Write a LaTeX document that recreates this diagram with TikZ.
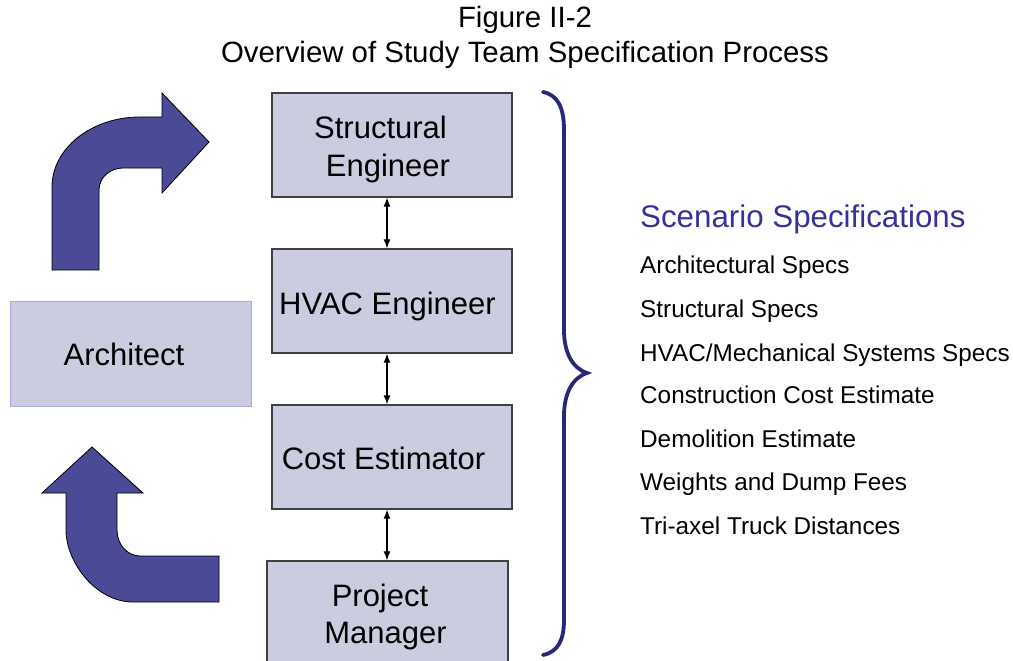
\documentclass[tikz,border=0pt]{standalone}
\usepackage{fontspec}
\setmainfont{Liberation Sans}
\usetikzlibrary{arrows.meta}
\definecolor{boxfill}{RGB}{204,204,224}
\definecolor{boxline}{RGB}{64,64,64}
\definecolor{archline}{RGB}{170,170,220}
\definecolor{arrowfill}{RGB}{74,74,150}
\definecolor{bracecol}{RGB}{40,40,120}
\definecolor{headcol}{RGB}{51,51,153}
\tikzset{
  rolebox/.style={draw=boxline, line width=1.3pt, fill=boxfill, minimum width=240pt, minimum height=104pt, inner sep=0pt},
  archbox/.style={draw=archline, line width=1pt, fill=boxfill, minimum width=241pt, minimum height=105pt, inner sep=0pt},
  boxtext/.style={anchor=base, inner sep=0pt, font=\fontsize{31}{36}\selectfont},
  link/.style={line width=1.2pt, {Latex[length=9pt,width=7pt]}-{Latex[length=9pt,width=7pt]}},
  bentarrow/.style={fill=arrowfill, draw=black, line width=0.8pt, line join=miter},
  speclist/.style={anchor=base west, inner sep=0pt, font=\fontsize{24.3}{28}\selectfont},
  titletext/.style={anchor=base, inner sep=0pt, font=\fontsize{29.4}{34}\selectfont}
}
\begin{document}
\begin{tikzpicture}[x=1pt,y=-1pt]
\useasboundingbox (0,0) rectangle (1013,661);
% title
\node[titletext] (t1) at (525,28) {Figure II-2};
\node[titletext] (t2) at (525,63) {Overview of Study Team Specification Process};
% role boxes
\node[rolebox] (se) at (392,145) {};
\node[rolebox] (he) at (392,301) {};
\node[rolebox] (ce) at (392,457) {};
\node[rolebox, minimum width=241pt] (pm) at (387.5,613) {};
\node[archbox] (ar) at (130.5,353.5) {};
% box texts
\node[boxtext] (se1) at (380.5,139) {Structural};
\node[boxtext] (se2) at (388,176) {Engineer};
\node[boxtext] (he1) at (387.5,314) {HVAC Engineer};
\node[boxtext] (ce1) at (383.5,469) {Cost Estimator};
\node[boxtext] (pm1) at (380,606) {Project};
\node[boxtext] (pm2) at (385.5,643) {Manager};
\node[boxtext] (ar1) at (124,365) {Architect};
% links
\draw[link] ([xshift=-5pt]se.south) -- ([xshift=-5pt]he.north);
\draw[link] ([xshift=-5pt]he.south) -- ([xshift=-5pt]ce.north);
\draw[link] ([xshift=-5pt]ce.south) -- ([xshift=-5pt]ce.south |- pm.north);
% bent arrows
\draw[bentarrow] (52,270) -- (52,187) .. controls (52,148.3) and (91.4,117) .. (140,117)
  -- (162,117) -- (162,93) -- (209,142) -- (162,193) -- (162,168) -- (123,168)
  .. controls (109.7,168) and (99,177.8) .. (99,190) -- (99,270) -- cycle;
\draw[bentarrow] (92,447) -- (143,493) -- (117,493) -- (117,530)
  .. controls (117,544.4) and (127.3,556) .. (140,556) -- (219,556) -- (219,602) -- (133,602)
  .. controls (96,602) and (66,562.2) .. (66,530) -- (66,493) -- (42,493) -- cycle;
% brace
\draw[bracecol, line width=3.8pt, line cap=round] (543,92) .. controls (558,95) and (564,108) .. (564,130)
  -- (564,330) .. controls (564,352) and (572,368) .. (587,373)
  .. controls (572,378) and (564,394) .. (564,416)
  -- (564,620) .. controls (564,640) and (558,652) .. (543,655);
% specifications
\node[anchor=base west, inner sep=0pt, text=headcol, font=\fontsize{31.3}{36}\selectfont] (sh) at (640,227) {Scenario Specifications};
\node[speclist] (s1) at (640,273) {Architectural Specs};
\node[speclist] (s2) at (640,317) {Structural Specs};
\node[speclist] (s3) at (640,361) {HVAC/Mechanical Systems Specs};
\node[speclist] (s4) at (640,403) {Construction Cost Estimate};
\node[speclist] (s5) at (640,447) {Demolition Estimate};
\node[speclist] (s6) at (640,490) {Weights and Dump Fees};
\node[speclist] (s7) at (640,534) {Tri-axel Truck Distances};
\end{tikzpicture}
\end{document}
